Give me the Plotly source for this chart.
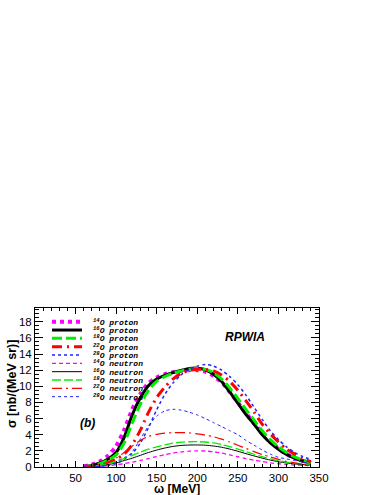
import plotly.graph_objects as go

# omega grid [MeV]
omega = [60, 70, 80, 90, 100, 110, 120, 130, 140, 150, 160, 170, 180, 190, 200,
         210, 220, 230, 240, 250, 260, 270, 280, 290, 300, 310, 320, 330, 340]

# proton knockout
p14 = [0.08, 0.3, 0.7, 1.4, 2.6, 4.6, 7.2, 9.1, 10.4, 11.1, 11.5, 11.75, 11.9, 12.0, 12.0,
       11.8, 11.3, 10.5, 9.3, 8.0, 6.7, 5.4, 4.2, 3.15, 2.3, 1.6, 1.1, 0.75, 0.5]
p16 = [0.05, 0.2, 0.5, 1.0, 1.8, 3.7, 6.5, 8.6, 10.1, 10.9, 11.35, 11.7, 11.95, 12.2, 12.25,
       12.05, 11.5, 10.6, 9.3, 7.9, 6.5, 5.3, 4.0, 3.0, 2.2, 1.55, 1.1, 0.75, 0.5]
p18 = [0.04, 0.15, 0.4, 0.85, 1.5, 3.0, 5.5, 7.8, 9.5, 10.6, 11.2, 11.6, 11.9, 12.1, 12.2,
       12.1, 11.7, 10.9, 9.8, 8.5, 7.1, 5.8, 4.5, 3.4, 2.5, 1.8, 1.25, 0.85, 0.55]
p22 = [0.03, 0.1, 0.25, 0.55, 0.95, 1.6, 2.8, 4.6, 6.8, 8.6, 9.9, 10.9, 11.6, 11.95, 12.1,
       12.1, 11.9, 11.4, 10.6, 9.5, 8.2, 6.8, 5.3, 4.1, 3.1, 2.2, 1.6, 1.05, 0.65]
p28 = [0.02, 0.06, 0.15, 0.35, 0.65, 1.1, 1.7, 3.0, 4.9, 7.1, 9.0, 10.4, 11.4, 12.1, 12.5,
       12.7, 12.5, 12.0, 11.2, 10.2, 8.9, 7.4, 5.9, 4.5, 3.4, 2.5, 1.8, 1.3, 0.95]

# neutron knockout
n14 = [0.01, 0.03, 0.07, 0.15, 0.27, 0.42, 0.6, 0.82, 1.05, 1.3, 1.52, 1.72, 1.87, 1.96, 2.0,
       1.98, 1.88, 1.72, 1.5, 1.27, 1.05, 0.85, 0.68, 0.52, 0.4, 0.31, 0.25, 0.2, 0.17]
n16 = [0.02, 0.06, 0.15, 0.3, 0.5, 0.8, 1.1, 1.45, 1.8, 2.1, 2.35, 2.55, 2.67, 2.72, 2.73,
       2.7, 2.6, 2.45, 2.22, 1.95, 1.65, 1.37, 1.1, 0.86, 0.65, 0.5, 0.38, 0.3, 0.25]
n18 = [0.02, 0.08, 0.2, 0.4, 0.7, 1.05, 1.45, 1.85, 2.2, 2.5, 2.75, 2.95, 3.07, 3.13, 3.14,
       3.1, 2.98, 2.78, 2.52, 2.22, 1.9, 1.58, 1.28, 1.0, 0.78, 0.6, 0.47, 0.4, 0.35]
n22 = [0.02, 0.1, 0.3, 0.6, 1.1, 1.8, 2.6, 3.3, 3.8, 4.05, 4.2, 4.25, 4.27, 4.22, 4.1,
       3.95, 3.75, 3.45, 3.1, 2.7, 2.3, 1.9, 1.55, 1.25, 0.95, 0.7, 0.5, 0.33, 0.2]
n28 = [0.0, 0.02, 0.05, 0.15, 0.4, 0.9, 1.9, 3.5, 5.1, 6.3, 6.95, 7.15, 7.05, 6.8, 6.45,
       6.0, 5.5, 5.0, 4.5, 4.0, 3.3, 2.7, 2.1, 1.6, 1.2, 1.0, 0.8, 0.6, 0.45]

labels = ["<sup>14</sup>O proton", "<sup>16</sup>O proton", "<sup>18</sup>O proton",
          "<sup>22</sup>O proton", "<sup>28</sup>O proton",
          "<sup>14</sup>O neutron", "<sup>16</sup>O neutron", "<sup>18</sup>O neutron",
          "<sup>22</sup>O neutron", "<sup>28</sup>O neutron"]
series = [p14, p16, p18, p22, p28, n14, n16, n18, n22, n28]

styles = [
    dict(color="#ff00ff", width=4, dash="dot"),
    dict(color="black", width=3, dash="solid"),
    dict(color="#00ee00", width=3, dash="10px,4px"),
    dict(color="#ff0000", width=3, dash="10px,5px,2px,5px"),
    dict(color="#2222ff", width=1.5, dash="dot"),
    dict(color="#ff00ff", width=1.3, dash="4px,3px"),
    dict(color="black", width=1, dash="solid"),
    dict(color="#00ee00", width=1.3, dash="9px,3px"),
    dict(color="#ff0000", width=1.2, dash="10px,4px,2px,4px"),
    dict(color="#2222ff", width=1, dash="dot"),
]

fig = go.Figure()
for ys, st, lab in zip(series, styles, labels):
    fig.add_trace(go.Scatter(x=omega, y=ys, mode="lines", name=lab, hoverinfo="skip",
                             line=dict(shape="spline", smoothing=0.7, **st)))

# hand-made legend (ROOT style, tight rows)
L, R, T, B = 35, 319, 308, 467
W, H = R - L, B - T
for i, (st, lab) in enumerate(zip(styles, labels)):
    py = 321.7 + 8.33 * i
    yp = (B - py) / H
    fig.add_shape(type="line", xref="paper", yref="paper",
                  x0=(52 - L) / W, x1=(82 - L) / W, y0=yp, y1=yp,
                  line=dict(color=st["color"], width=st["width"], dash=st["dash"]))
    fig.add_annotation(xref="paper", yref="paper", x=(91 - L) / W, y=yp,
                       text="<b><i>" + lab + "</i></b>", showarrow=False,
                       xanchor="left", yanchor="middle",
                       font=dict(family="Liberation Mono", size=8, color="black"))

fig.add_annotation(xref="paper", yref="paper", x=(267 - L) / W, y=(B - 328) / H,
                   text="<b><i>RPWIA</i></b>", showarrow=False,
                   font=dict(family="Liberation Sans", size=12, color="black"))
fig.add_annotation(xref="paper", yref="paper", x=(78 - L) / W, y=(B - 432) / H,
                   text="<b><i>(b)</i></b>", showarrow=False,
                   font=dict(family="Liberation Sans", size=12, color="black"))

# axis titles placed like ROOT does
fig.add_annotation(xref="paper", yref="paper", x=(177 - L) / W, y=(B - 488.5) / H,
                   text="<b>ω [MeV]</b>", showarrow=False, yanchor="middle",
                   font=dict(family="Liberation Sans", size=12, color="black"))
fig.add_annotation(xref="paper", yref="paper", x=(12 - L) / W, y=(B - 384) / H,
                   text="<b>σ [nb/(MeV sr)]</b>", showarrow=False, textangle=-90,
                   xanchor="center", yanchor="middle",
                   font=dict(family="Liberation Sans", size=12.5, color="black"))

fig.update_layout(
    width=383, height=495,
    margin=dict(l=L, r=383 - R, t=T, b=495 - B),
    paper_bgcolor="white", plot_bgcolor="white",
    showlegend=False, hovermode=False,
    font=dict(family="Liberation Sans", size=11, color="black"),
)
fig.update_xaxes(
    range=[0, 350], tickmode="array", tickvals=[50, 100, 150, 200, 250, 300, 350],
    ticks="inside", ticklen=6, tickcolor="black", showline=True, linecolor="black",
    linewidth=1, mirror="ticks", showgrid=False, zeroline=False, automargin=False,
    minor=dict(ticks="inside", ticklen=3, tick0=0, dtick=10, tickcolor="black", showgrid=False),
    tickfont=dict(size=11.5),
)
fig.update_yaxes(
    range=[0, 19.7], tick0=0, dtick=2,
    ticks="inside", ticklen=8, tickcolor="black", showline=True, linecolor="black",
    linewidth=1, mirror="ticks", showgrid=False, zeroline=False, automargin=False,
    minor=dict(ticks="inside", ticklen=4, tick0=0, dtick=0.5, tickcolor="black", showgrid=False),
    tickfont=dict(size=11.5),
)

# drop the browser's default 8px body margin so the figure sits at the page corner
fig.write_html("out.html", config={"displayModeBar": False},
               post_script="document.body.style.margin='0';")
